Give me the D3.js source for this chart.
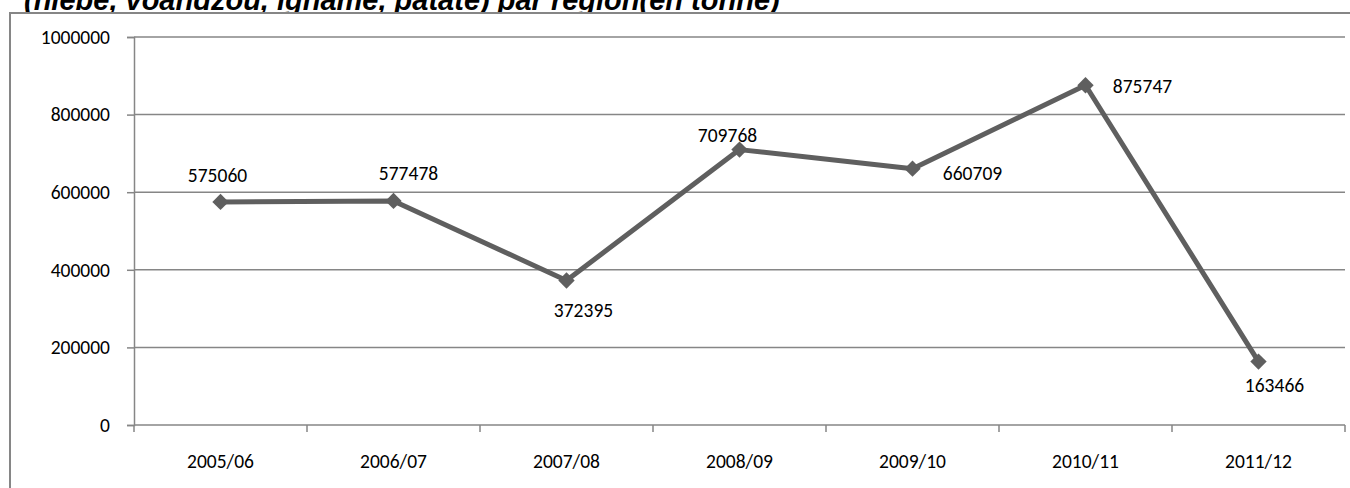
<!DOCTYPE html>
<html>
<head>
<meta charset="utf-8">
<script src="https://cdn.jsdelivr.net/npm/d3@7"></script>
<style>
  html, body { margin: 0; padding: 0; background: #fff; overflow: hidden; }
  svg { display: block; }
</style>
</head>
<body>
<svg id="chart" width="1350" height="488"></svg>
<script>
const title = "(niebe, voandzou, igname, patate) par région(en tonne)";
const categories = ["2005/06", "2006/07", "2007/08", "2008/09", "2009/10", "2010/11", "2011/12"];
const values = [575060, 577478, 372395, 709768, 660709, 875747, 163466];
const yTicks = [0, 200000, 400000, 600000, 800000, 1000000];
const labelPos = ["aboveLeft", "aboveRight", "belowRight", "aboveLeft2", "right", "right2", "belowRight2"];

const svg = d3.select("#chart");
const W = 1350, H = 488;
const m = { left: 134, right: 5, top: 37, bottom: 63 };
const font = "Carlito, Calibri, Lato, 'Open Sans', sans-serif";
const fs = 19.5;
const gray = "#868686";
const lineColor = "#5f5f5f";

// title (partially cut off at top, its descenders hidden by the chart frame)
svg.append("text")
  .attr("x", 24).attr("y", 10)
  .attr("font-family", "'Liberation Sans', Arial, sans-serif")
  .attr("font-size", 29).attr("font-weight", "bold").attr("font-style", "italic")
  .attr("fill", "#000")
  .text(title);

// frame
svg.append("rect")
  .attr("x", 10).attr("y", 13).attr("width", 1350).attr("height", 500)
  .attr("fill", "#fff").attr("stroke", gray).attr("stroke-width", 2);

const x = d3.scaleBand().domain(categories).range([m.left, W - m.right]).padding(0);
const y = d3.scaleLinear().domain([0, 1000000]).range([H - m.bottom, m.top]);

// gridlines
svg.append("g").selectAll("line").data(yTicks.filter(d => d > 0)).join("line")
  .attr("x1", m.left).attr("x2", W - m.right)
  .attr("y1", d => y(d)).attr("y2", d => y(d))
  .attr("stroke", gray).attr("stroke-width", 1.5);

// y axis
const yAxis = svg.append("g").attr("transform", `translate(${m.left},0)`)
  .call(d3.axisLeft(y).tickValues(yTicks).tickSize(7).tickPadding(17).tickFormat(d3.format("d")));
yAxis.select(".domain").attr("stroke", gray).attr("stroke-width", 1.5);
yAxis.selectAll(".tick line").attr("stroke", gray).attr("stroke-width", 1.5);
yAxis.selectAll("text").attr("font-family", font).attr("font-size", fs).attr("fill", "#000");

// x axis with ticks at category boundaries
const boundaries = categories.map(c => x(c)).concat([x(categories[categories.length - 1]) + x.bandwidth()]);
const xg = svg.append("g").attr("transform", `translate(0,${y(0)})`);
xg.append("line").attr("x1", m.left).attr("x2", W - m.right).attr("y1", 0).attr("y2", 0)
  .attr("stroke", gray).attr("stroke-width", 1.5);
xg.selectAll("line.tk").data(boundaries).join("line").attr("class", "tk")
  .attr("x1", d => d).attr("x2", d => d).attr("y1", 0).attr("y2", 7)
  .attr("stroke", gray).attr("stroke-width", 1.5);
xg.selectAll("text").data(categories).join("text")
  .attr("x", d => x(d) + x.bandwidth() / 2).attr("y", 43)
  .attr("text-anchor", "middle")
  .attr("font-family", font).attr("font-size", fs).attr("fill", "#000")
  .text(d => d);

// line
const data = categories.map((c, i) => ({ c, v: values[i], pos: labelPos[i] }));
const cx = d => x(d.c) + x.bandwidth() / 2;
svg.append("path").datum(data)
  .attr("d", d3.line().x(cx).y(d => y(d.v)))
  .attr("fill", "none").attr("stroke", lineColor).attr("stroke-width", 5)
  .attr("stroke-linejoin", "round");

// diamond markers
svg.append("g").selectAll("path").data(data).join("path")
  .attr("transform", d => `translate(${cx(d)},${y(d.v)})`)
  .attr("d", d3.symbol().type(d3.symbolDiamond2).size(170))
  .attr("fill", lineColor);

// value labels (offsets of the text centre/baseline from the point)
const off = {
  aboveLeft: [-3, -20],
  aboveRight: [15, -21],
  belowRight: [17, 36],
  aboveLeft2: [-12, -8],
  right: [60, 11],
  right2: [57, 8],
  belowRight2: [16, 30]
};
svg.append("g").selectAll("text").data(data).join("text")
  .attr("x", d => cx(d) + off[d.pos][0])
  .attr("y", d => y(d.v) + off[d.pos][1])
  .attr("text-anchor", "middle")
  .attr("font-family", font).attr("font-size", fs).attr("fill", "#000")
  .text(d => d.v);
</script>
</body>
</html>
